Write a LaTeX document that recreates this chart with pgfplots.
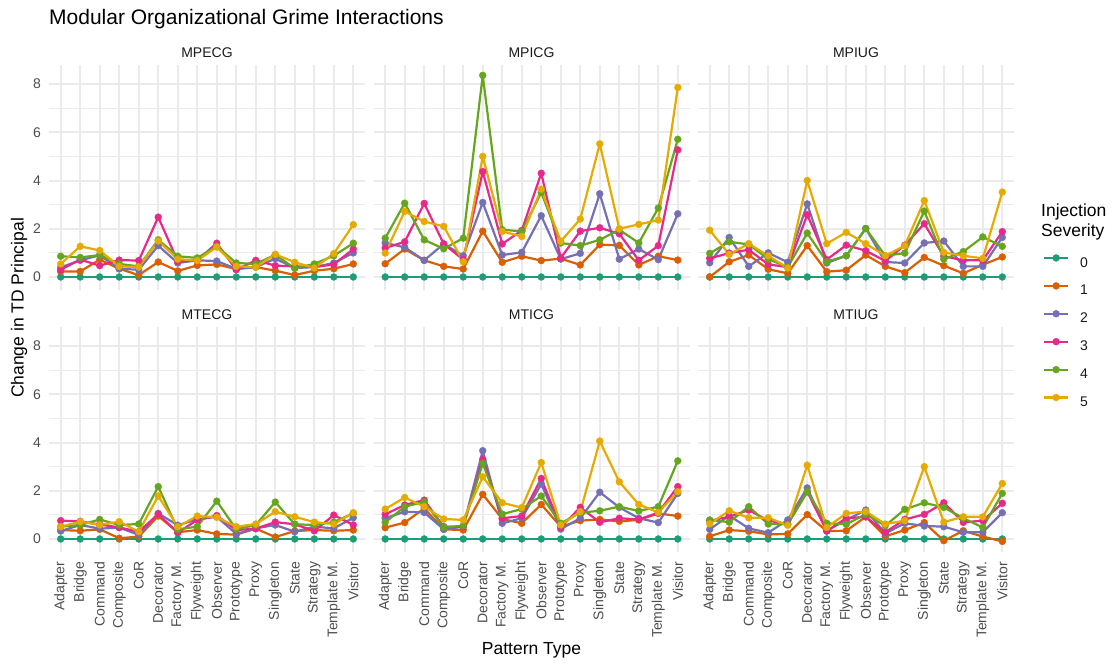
\documentclass[border=0pt]{standalone}
\usepackage{fontspec}
\setmainfont{Liberation Sans}
\usepackage{pgfplots}
\usepackage{pgfplotstable}
\pgfplotsset{compat=1.18}
\definecolor{c0}{HTML}{1B9E77}
\definecolor{c1}{HTML}{D95F02}
\definecolor{c2}{HTML}{7570B3}
\definecolor{c3}{HTML}{E7298A}
\definecolor{c4}{HTML}{66A61E}
\definecolor{c5}{HTML}{E6AB02}
\definecolor{gridc}{HTML}{EBEBEB}
\definecolor{tickc}{HTML}{4D4D4D}
\definecolor{stripc}{HTML}{1A1A1A}

% MPECG
\pgfplotstableread{
x s0 s1 s2 s3 s4 s5
0 0 0.23 0.40 0.30 0.86 0.54
1 0 0.23 0.69 0.72 0.81 1.27
2 0 0.72 0.90 0.47 0.91 1.10
3 0 0.34 0.34 0.70 0.54 0.44
4 0 0.08 0.30 0.68 0.44 0.41
5 0 0.62 1.30 2.48 1.54 1.49
6 0 0.25 0.58 0.65 0.86 0.74
7 0 0.48 0.69 0.69 0.79 0.68
8 0 0.52 0.66 1.40 1.27 1.24
9 0 0.33 0.34 0.30 0.58 0.44
10 0 0.41 0.41 0.69 0.54 0.41
11 0 0.26 0.76 0.47 0.92 0.94
12 0 0.08 0.37 0.44 0.36 0.61
13 0 0.26 0.41 0.41 0.54 0.37
14 0 0.34 0.58 0.52 0.88 0.97
15 0 0.54 1.00 1.16 1.40 2.17
}\tabA
% MPICG
\pgfplotstableread{
x s0 s1 s2 s3 s4 s5
0 0 0.55 1.41 1.20 1.61 0.99
1 0 1.16 1.23 1.46 3.06 2.72
2 0 0.69 0.69 3.05 1.54 2.30
3 0 0.44 1.37 1.37 1.17 2.10
4 0 0.33 0.88 0.72 1.61 0.63
5 0 1.90 3.09 4.37 8.36 5.00
6 0 0.61 0.91 1.37 1.96 1.89
7 0 0.86 1.02 1.93 1.89 1.68
8 0 0.68 2.54 4.30 3.50 3.64
9 0 0.76 0.74 0.79 1.41 1.48
10 0 0.50 0.98 1.90 1.30 2.40
11 0 1.34 3.45 2.04 1.54 5.52
12 0 1.31 0.74 1.79 1.96 2.00
13 0 0.50 1.16 0.69 1.41 2.18
14 0 0.86 0.72 1.30 2.86 2.36
15 0 0.70 2.62 5.27 5.71 7.86
}\tabB
% MPIUG
\pgfplotstableread{
x s0 s1 s2 s3 s4 s5
0 0 0.00 0.59 0.77 0.98 1.94
1 0 0.63 1.64 0.99 1.46 0.94
2 0 0.91 0.44 1.13 1.35 1.38
3 0 0.32 1.00 0.52 0.74 0.88
4 0 0.15 0.61 0.41 0.41 0.37
5 0 1.30 3.03 2.58 1.82 4.00
6 0 0.22 0.58 0.72 0.63 1.38
7 0 0.28 0.88 1.32 0.88 1.85
8 0 0.91 2.01 1.09 2.01 1.38
9 0 0.44 0.62 0.66 0.88 0.88
10 0 0.18 0.58 1.32 0.99 1.30
11 0 0.81 1.41 2.21 2.73 3.17
12 0 0.47 1.49 0.86 0.74 1.02
13 0 0.15 0.44 0.69 1.05 0.88
14 0 0.51 0.44 0.69 1.66 0.77
15 0 0.83 1.64 1.88 1.27 3.52
}\tabC
% MTECG
\pgfplotstableread{
x s0 s1 s2 s3 s4 s5
0 0 0.37 0.33 0.76 0.51 0.51
1 0 0.34 0.58 0.73 0.58 0.72
2 0 0.40 0.43 0.60 0.81 0.58
3 0 0.03 0.47 0.48 0.58 0.72
4 0 0.10 0.17 0.30 0.62 0.30
5 0 0.95 1.06 1.03 2.17 1.78
6 0 0.28 0.57 0.26 0.40 0.51
7 0 0.37 0.81 0.79 0.51 0.95
8 0 0.21 0.92 0.97 1.57 0.90
9 0 0.18 0.21 0.37 0.40 0.51
10 0 0.43 0.44 0.43 0.58 0.62
11 0 0.08 0.58 0.70 1.53 1.13
12 0 0.33 0.30 0.61 0.61 0.92
13 0 0.37 0.51 0.34 0.58 0.70
14 0 0.34 0.44 0.99 0.70 0.62
15 0 0.37 0.88 0.58 1.06 1.09
}\tabD
% MTICG
\pgfplotstableread{
x s0 s1 s2 s3 s4 s5
0 0 0.47 0.86 1.02 0.69 1.24
1 0 0.68 1.13 1.41 1.34 1.72
2 0 1.27 1.10 1.61 1.54 1.34
3 0 0.40 0.40 0.51 0.48 0.83
4 0 0.37 0.51 0.51 0.55 0.79
5 0 1.85 3.66 3.30 3.13 2.58
6 0 0.83 0.65 0.86 1.03 1.50
7 0 0.65 0.86 0.95 1.24 1.30
8 0 1.43 2.28 2.51 1.78 3.17
9 0 0.51 0.41 0.48 0.65 0.58
10 0 0.76 0.86 1.31 1.09 1.13
11 0 0.81 1.94 0.69 1.17 4.06
12 0 0.73 1.31 0.86 1.34 2.37
13 0 0.79 0.86 0.81 1.16 1.43
14 0 1.06 0.68 1.09 1.34 1.10
15 0 0.95 1.89 2.17 3.24 1.96
}\tabE
% MTIUG
\pgfplotstableread{
x s0 s1 s2 s3 s4 s5
0 0 0.11 0.40 0.76 0.79 0.63
1 0 0.37 0.97 0.92 0.70 1.17
2 0 0.32 0.44 1.20 1.34 0.88
3 0 0.19 0.26 0.76 0.62 0.88
4 0 0.21 0.79 0.62 0.61 0.57
5 0 1.01 2.12 1.96 1.96 3.06
6 0 0.33 0.34 0.33 0.65 0.48
7 0 0.34 0.79 0.86 0.61 1.06
8 0 0.92 1.20 0.92 1.03 1.14
9 0 0.11 0.23 0.28 0.55 0.62
10 0 0.37 0.65 0.81 1.23 0.76
11 0 0.68 0.54 1.02 1.50 3.00
12 0 -0.07 0.51 1.50 1.31 0.70
13 0 0.34 0.28 0.69 0.86 0.92
14 0 0.10 0.28 0.76 0.48 0.92
15 0 -0.10 1.09 1.48 1.89 2.30
}\tabF

\pgfplotsset{
  panel/.style={
    scale only axis, width=316pt, height=225pt,
    xmin=-0.6, xmax=15.6, ymin=-0.54, ymax=8.79,
    axis line style={draw=none},
    xtick={0,...,15}, ytick={0,2,4,6,8}, minor ytick={1,3,5,7},
    grid=both,
    major grid style={gridc, line width=2pt},
    minor grid style={gridc, line width=1pt},
    major tick length=0pt, minor tick length=0pt,
    tick style={draw=none},
    /pgf/number format/assume math mode=true,
    ticklabel style={font=\fontsize{14}{14}\selectfont, text=tickc},
    xticklabels={}, yticklabels={},
    every axis title/.style={at={(0.5,1)}, anchor=center, yshift=12.8pt, inner sep=0pt,
      font=\fontsize{14}{14}\selectfont, text=stripc},
  },
  leftcol/.style={
    yticklabels={0,2,4,6,8},
    yticklabel style={anchor=east, inner sep=0pt},
    yticklabel shift=8pt,
  },
  bottomrow/.style={
    xticklabels={Adapter,Bridge,Command,Composite,CoR,Decorator,Factory M.,Flyweight,Observer,Prototype,Proxy,Singleton,State,Strategy,Template M.,Visitor},
    xticklabel style={rotate=90, anchor=east, inner sep=0pt},
    xticklabel shift=9.5pt,
  },
  sline/.style={#1, line width=2.2pt, line join=round, line cap=round, forget plot},
  spt/.style={#1, only marks, mark=*, mark size=3.5pt, mark options={line width=0.3pt}, forget plot},
}

\newcommand{\series}[1]{%
  \addplot[sline=c0] table[x=x,y=s0]{#1};
  \addplot[sline=c1] table[x=x,y=s1]{#1};
  \addplot[sline=c2] table[x=x,y=s2]{#1};
  \addplot[sline=c3] table[x=x,y=s3]{#1};
  \addplot[sline=c4] table[x=x,y=s4]{#1};
  \addplot[sline=c5] table[x=x,y=s5]{#1};
  \addplot[spt=c0] table[x=x,y=s0]{#1};
  \addplot[spt=c1] table[x=x,y=s1]{#1};
  \addplot[spt=c2] table[x=x,y=s2]{#1};
  \addplot[spt=c3] table[x=x,y=s3]{#1};
  \addplot[spt=c4] table[x=x,y=s4]{#1};
  \addplot[spt=c5] table[x=x,y=s5]{#1};
}

\begin{document}
\begin{tikzpicture}
\useasboundingbox (0pt,0pt) rectangle (1114pt,665pt);

\begin{axis}[panel, leftcol, title={MPECG}, at={(49pt,375pt)}, anchor=south west]
\series{\tabA}
\end{axis}
\begin{axis}[panel, title={MPICG}, at={(373.5pt,375pt)}, anchor=south west]
\series{\tabB}
\end{axis}
\begin{axis}[panel, title={MPIUG}, at={(698pt,375pt)}, anchor=south west,
  legend image code/.code={\draw[mark repeat=2, mark phase=2, yshift=5pt, #1] plot coordinates {(0pt,0pt) (12pt,0pt) (24pt,0pt)};},
  legend style={at={(axis description cs:1.0918,0.158)}, anchor=north west, draw=none, fill=none,
    inner sep=0pt, outer sep=0pt, row sep=13.8pt, column sep=11pt,
    nodes={inner sep=0pt, font=\fontsize{14}{14}\selectfont, text=stripc}},
  legend cell align=left]
\series{\tabC}
\addlegendimage{c0, line width=2.2pt, mark=*, mark size=3.5pt, mark options={line width=0.3pt}}
\addlegendentry{0}
\addlegendimage{c1, line width=2.2pt, mark=*, mark size=3.5pt, mark options={line width=0.3pt}}
\addlegendentry{1}
\addlegendimage{c2, line width=2.2pt, mark=*, mark size=3.5pt, mark options={line width=0.3pt}}
\addlegendentry{2}
\addlegendimage{c3, line width=2.2pt, mark=*, mark size=3.5pt, mark options={line width=0.3pt}}
\addlegendentry{3}
\addlegendimage{c4, line width=2.2pt, mark=*, mark size=3.5pt, mark options={line width=0.3pt}}
\addlegendentry{4}
\addlegendimage{c5, line width=2.2pt, mark=*, mark size=3.5pt, mark options={line width=0.3pt}}
\addlegendentry{5}
\end{axis}
\begin{axis}[panel, leftcol, bottomrow, title={MTECG}, at={(49pt,113pt)}, anchor=south west]
\series{\tabD}
\end{axis}
\begin{axis}[panel, bottomrow, title={MTICG}, at={(373.5pt,113pt)}, anchor=south west]
\series{\tabE}
\end{axis}
\begin{axis}[panel, bottomrow, title={MTIUG}, at={(698pt,113pt)}, anchor=south west]
\series{\tabF}
\end{axis}

\node[anchor=base west, inner sep=0pt, font=\fontsize{21}{21}\selectfont] at (49pt,640.5pt) {Modular Organizational Grime Interactions};
\node[rotate=90, inner sep=0pt, font=\fontsize{17.5}{17.5}\selectfont] at (19pt,357pt) {Change in TD Principal};
\node[inner sep=0pt, font=\fontsize{17.5}{17.5}\selectfont] at (531.5pt,15pt) {Pattern Type};
\node[anchor=north west, align=left, inner sep=0pt, font=\fontsize{17.5}{19.5}\selectfont] at (1041pt,461pt) {Injection\\Severity};
\end{tikzpicture}
\end{document}
